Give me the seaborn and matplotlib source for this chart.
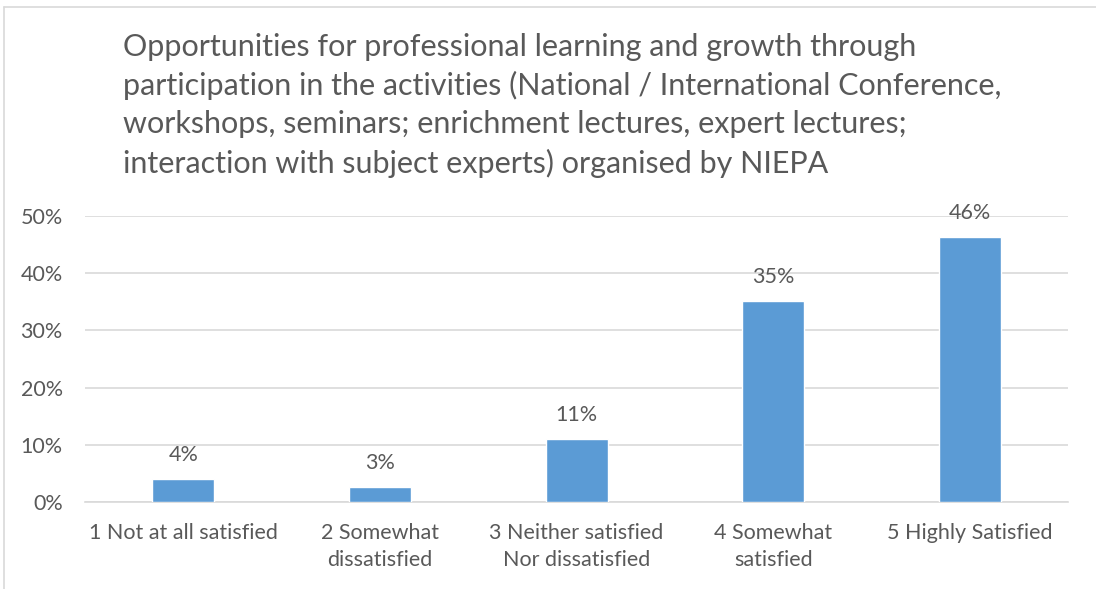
import matplotlib
matplotlib.use("Agg")
import matplotlib.pyplot as plt
from matplotlib.lines import Line2D
from matplotlib.ticker import PercentFormatter
import seaborn as sns
import pandas as pd

sns.set_style("white")
plt.rcParams["font.family"] = ["Lato", "DejaVu Sans"]

# ─── Chart data ─────────────────────────────────────────────────────────────
categories = [
    "1 Not at all satisfied",
    "2 Somewhat\ndissatisfied",
    "3 Neither satisfied\nNor dissatisfied",
    "4 Somewhat\nsatisfied",
    "5 Highly Satisfied",
]
shares = [0.041, 0.026, 0.111, 0.351, 0.464]
labels = ["4%", "3%", "11%", "35%", "46%"]
y_ticks = [0.0, 0.1, 0.2, 0.3, 0.4, 0.5]

title = ("Opportunities for professional learning and growth through\n"
         "participation in the activities (National / International Conference,\n"
         "workshops, seminars; enrichment lectures, expert lectures;\n"
         "interaction with subject experts) organised by NIEPA")

TEXT = "#595959"
BAR = "#5B9BD5"
GRID = "#D9D9D9"

df = pd.DataFrame({"category": categories, "share": shares})

fig = plt.figure(figsize=(10.96, 5.89), dpi=100)
ax = fig.add_axes([0.0776, 0.1477, 0.9745 - 0.0776, 0.6333 - 0.1477])

sns.barplot(data=df, x="category", y="share", color=BAR, saturation=1,
            width=0.315, ax=ax, zorder=3)

ax.set_ylim(0, 0.5)
ax.set_xlim(-0.5, len(categories) - 0.5)
ax.set_yticks(y_ticks)
ax.yaxis.set_major_formatter(PercentFormatter(1.0, decimals=0))
ax.grid(axis="y", color=GRID, linewidth=1.2, zorder=0)
ax.set_xlabel("")
ax.set_ylabel("")
for side in ["top", "right", "left"]:
    ax.spines[side].set_visible(False)
ax.spines["bottom"].set_color(GRID)
ax.spines["bottom"].set_linewidth(1.2)
ax.tick_params(axis="both", length=0, labelsize=15.5, colors=TEXT)
ax.tick_params(axis="x", pad=15)
ax.tick_params(axis="y", pad=16)
for lbl in ax.get_xticklabels():
    lbl.set_linespacing(1.45)

for i, (v, t) in enumerate(zip(shares, labels)):
    ax.annotate(t, (i, v), xytext=(0, 10), textcoords="offset points",
                ha="center", va="bottom", fontsize=15.5, color=TEXT,
                annotation_clip=False)

fig.text(123 / 1096, 1 - 33 / 589, title, ha="left", va="top",
         fontsize=22, color=TEXT, linespacing=1.43)

# chart-area border (only top and left edges are visible in the crop)
fig.add_artist(Line2D([4 / 1096, 1], [1 - 7 / 589, 1 - 7 / 589],
                      transform=fig.transFigure, color=GRID, linewidth=1.2))
fig.add_artist(Line2D([4 / 1096, 4 / 1096], [0, 1 - 7 / 589],
                      transform=fig.transFigure, color=GRID, linewidth=1.2))

fig.savefig("out.png", dpi=100, facecolor="white")
